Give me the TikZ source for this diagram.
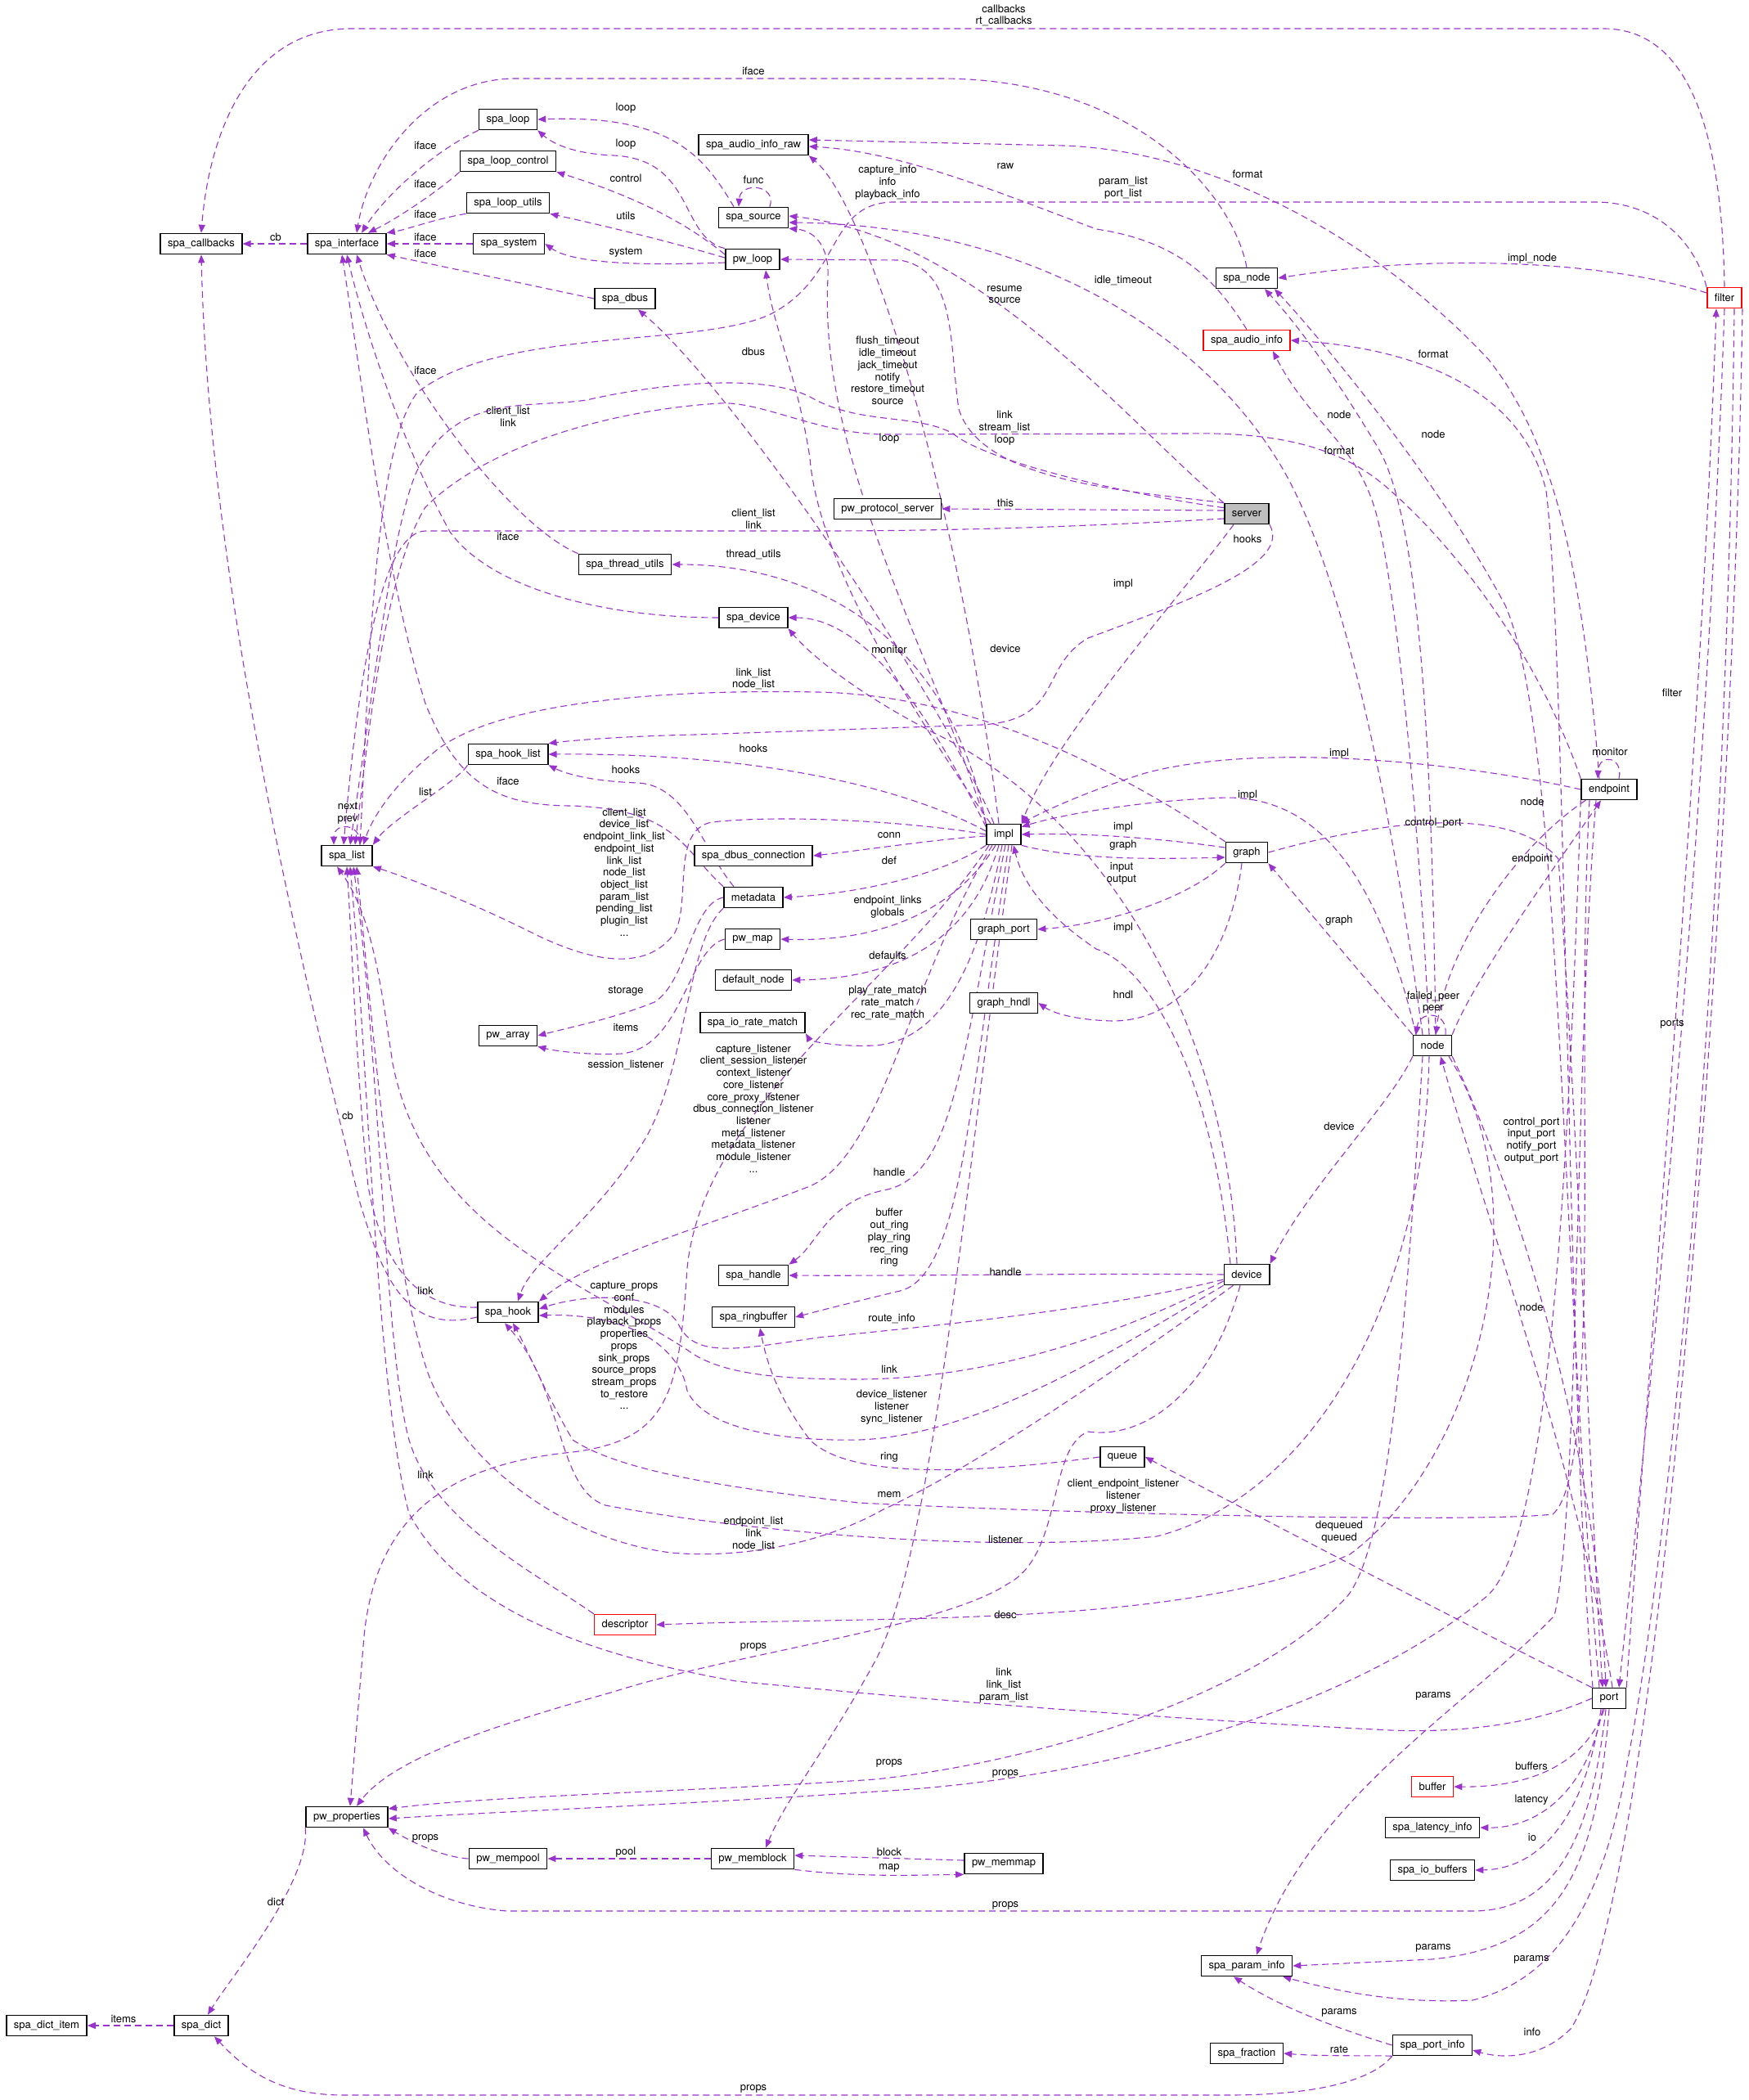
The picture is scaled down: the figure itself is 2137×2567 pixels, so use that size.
\documentclass[tikz,border=0pt]{standalone}
\usepackage{fontspec}
\setmainfont{TeX Gyre Heros}
\usetikzlibrary{arrows.meta}
\definecolor{edgecol}{HTML}{9A32CD}
\definecolor{rootgray}{HTML}{BFBFBF}
\newcommand{\dxfont}{\fontsize{6.5}{7.35}\selectfont}
\pgfdeclarelayer{paper}
\pgfdeclarelayer{bg}
\pgfsetlayers{paper,bg,main}
\tikzset{
  cls/.style={draw=black, line width=0.8pt, fill=white, font=\dxfont,
    inner xsep=4.5pt, inner ysep=0pt, minimum height=12.5pt},
  redcls/.style={cls, draw=red},
  rootcls/.style={cls, fill=rootgray},
  lbl/.style={font=\dxfont, align=center, inner sep=0pt},
  edge/.style={draw=edgecol, line width=0.55pt, dash pattern=on 4pt off 2.5pt,
    -{Triangle[length=5pt,width=4pt]}}
}
\begin{document}
\begin{tikzpicture}[x=0.5pt, y=-0.5pt]
\begin{pgfonlayer}{paper}
\fill[white] (0,0) rectangle (2137,2567);
\end{pgfonlayer}
\useasboundingbox (0,0) rectangle (2137,2567);

% Clases
\node[cls] (spa_callbacks) at (246,298) {spa\_callbacks};
\node[cls] (spa_interface) at (424,298) {spa\_interface};
\node[cls] (spa_loop) at (621,146) {spa\_loop};
\node[cls] (spa_loop_control) at (621,197) {spa\_loop\_control};
\node[cls] (spa_loop_utils) at (621,248) {spa\_loop\_utils};
\node[cls] (spa_system) at (622,298) {spa\_system};
\node[cls] (spa_dbus) at (764,365) {spa\_dbus};
\node[cls] (spa_audio_info_raw) at (921,177) {spa\_audio\_info\_raw};
\node[cls] (spa_source) at (921,266) {spa\_source};
\node[cls] (pw_loop) at (920,317) {pw\_loop};
\node[cls] (pw_protocol_server) at (1085,622) {pw\_protocol\_server};
\node[rootcls] (server) at (1524,628) {server};
\node[cls] (spa_node) at (1524,340) {spa\_node};
\node[redcls] (spa_audio_info) at (1524,416) {spa\_audio\_info};
\node[redcls] (filter) at (2108,364) {filter};
\node[cls] (spa_thread_utils) at (764,690) {spa\_thread\_utils};
\node[cls] (spa_device) at (921,755) {spa\_device};
\node[cls] (spa_hook_list) at (621,922) {spa\_hook\_list};
\node[cls] (spa_list) at (424,1046) {spa\_list};
\node[cls] (spa_dbus_connection) at (921,1046) {spa\_dbus\_connection};
\node[cls] (metadata) at (921,1097) {metadata};
\node[cls] (pw_map) at (920,1148) {pw\_map};
\node[cls] (default_node) at (921,1198) {default\_node};
\node[cls] (spa_io_rate_match) at (920,1250) {spa\_io\_rate\_match};
\node[cls] (pw_array) at (621,1266) {pw\_array};
\node[cls] (impl) at (1227,1020) {impl};
\node[cls] (graph) at (1524,1042) {graph};
\node[cls] (graph_port) at (1227,1136) {graph\_port};
\node[cls] (graph_hndl) at (1227,1226) {graph\_hndl};
\node[cls] (endpoint) at (1967,965) {endpoint};
\node[cls] (node) at (1751,1278) {node};
\node[cls] (spa_hook) at (621,1604) {spa\_hook};
\node[cls] (spa_handle) at (921,1559) {spa\_handle};
\node[cls] (spa_ringbuffer) at (921,1610) {spa\_ringbuffer};
\node[cls] (device) at (1524,1558) {device};
\node[cls] (queue) at (1372,1781) {queue};
\node[redcls] (descriptor) at (764,1986) {descriptor};
\node[cls] (pw_properties) at (424,2221) {pw\_properties};
\node[cls] (pw_mempool) at (621,2272) {pw\_mempool};
\node[cls] (pw_memblock) at (920,2272) {pw\_memblock};
\node[cls] (spa_dict_item) at (57,2476) {spa\_dict\_item};
\node[cls] (spa_dict) at (246,2476) {spa\_dict};
\node[cls] (port) at (1967,2076) {port};
\node[redcls] (buffer) at (1751,2184) {buffer};
\node[cls] (spa_latency_info) at (1751,2234) {spa\_latency\_info};
\node[cls] (spa_io_buffers) at (1751,2286) {spa\_io\_buffers};
\node[cls] (pw_memmap) at (1227,2278) {pw\_memmap};
\node[cls] (spa_param_info) at (1524,2403) {spa\_param\_info};
\node[cls] (spa_port_info) at (1751,2500) {spa\_port\_info};
\node[cls] (spa_fraction) at (1524,2510) {spa\_fraction};

% Conexiones
\begin{pgfonlayer}{bg}
\draw[edge] (spa_interface) -- (spa_callbacks);
\draw[edge] (filter.north) .. controls (2105,150) and (2060,35) .. (1960,35) -- (430,35) .. controls (300,35) and (255,170) .. (spa_callbacks.north);
\draw[edge] (spa_node.north) .. controls (1505,230) and (1380,96) .. (1150,96) -- (630,96) .. controls (520,96) and (450,200) .. ([xshift=6pt]spa_interface.north);
\draw[edge] (spa_loop.south west) .. controls (530,185) and (470,240) .. ([xshift=9pt]spa_interface.north);
\draw[edge] (spa_loop_control.south west) .. controls (540,230) and (490,265) .. ([xshift=13pt]spa_interface.north);
\draw[edge] (spa_loop_utils.south west) .. controls (530,268) and (500,280) .. (spa_interface.north east);
\draw[edge] (spa_system) -- (spa_interface);
\draw[edge] (spa_dbus.west) -- (spa_interface.south east);
\draw[edge] ([xshift=-12pt]spa_source.north) .. controls (860,190) and (820,140) .. (spa_loop.east);
\draw[edge] ([xshift=10pt]spa_source.north) .. controls (950,225) and (905,222) .. ([xshift=-9pt]spa_source.north);
\draw[edge] (pw_loop.north west) .. controls (830,290) and (850,195) .. (750,190) .. controls (700,188) and (675,175) .. (spa_loop.south east);
\draw[edge] ([yshift=3pt]pw_loop.west) .. controls (830,265) and (760,235) .. (spa_loop_control.south east);
\draw[edge] ([yshift=1pt]pw_loop.west) .. controls (800,290) and (720,272) .. (spa_loop_utils.south east);
\draw[edge] ([yshift=-2pt]pw_loop.west) .. controls (780,325) and (700,322) .. (spa_system.east);
\draw[edge] (spa_audio_info.north) .. controls (1485,340) and (1440,295) .. (1340,280) .. controls (1220,235) and (1100,185) .. ([yshift=-1pt]spa_audio_info_raw.east);
\draw[edge] ([xshift=-6pt]endpoint.north) .. controls (1935,700) and (1900,540) .. (1820,440) .. controls (1700,310) and (1500,185) .. (1300,178) -- ([yshift=3pt]spa_audio_info_raw.east);
\draw[edge] ([xshift=-3pt]impl.north) .. controls (1170,600) and (1060,250) .. (spa_audio_info_raw.south east);
\draw[edge] (filter.north west) .. controls (2070,290) and (2020,247) .. (1950,247) -- (1090,247) .. controls (1010,250) and (1030,340) .. (940,385) .. controls (850,425) and (610,400) .. (510,480) .. controls (455,550) and (450,850) .. ([xshift=8pt]spa_list.north);
\draw[edge] ([yshift=3pt]filter.west) .. controls (1960,318) and (1750,310) .. (spa_node.east);
\draw[edge] ([xshift=-6pt]node.north) .. controls (1710,1050) and (1650,700) .. (1560,560) .. controls (1460,400) and (1250,275) .. ([yshift=-3pt]spa_source.east);
\draw[edge] (server.north west) .. controls (1390,530) and (1200,290) .. ([yshift=1pt]spa_source.east);
\draw[edge] (impl.north west) .. controls (1140,800) and (1000,560) .. (1012,340) .. controls (1014,300) and (995,282) .. (spa_source.south east);
\draw[edge] ([xshift=-6pt]impl.north) .. controls (1150,850) and (900,480) .. ([xshift=8pt]spa_dbus.south);
\draw[edge] ([xshift=-8pt]impl.north) .. controls (1100,850) and (1000,680) .. (990,560) .. controls (975,460) and (945,400) .. ([xshift=8pt]pw_loop.south);
\draw[edge] (server.north west) .. controls (1380,600) and (1200,590) .. (1172,500) .. controls (1160,420) and (1170,330) .. (1100,318) -- (pw_loop.east);
\draw[edge] ([yshift=-3pt]server.north west) .. controls (1350,600) and (1200,560) .. (1165,530) .. controls (1120,505) and (1050,520) .. (990,485) .. controls (930,455) and (800,470) .. (717,489) .. controls (640,500) and (560,480) .. (510,575) .. controls (480,640) and (455,850) .. ([xshift=2pt]spa_list.north);
\draw[edge] ([yshift=-3pt]server.west) .. controls (1300,645) and (1150,649) .. (1000,649) -- (520,649) .. controls (470,650) and (440,800) .. ([xshift=-2pt]spa_list.north);
\draw[edge] (endpoint.north west) .. controls (1880,800) and (1780,670) .. (1700,600) .. controls (1640,545) and (1560,528) .. (1450,530) -- (1080,531) .. controls (1000,530) and (930,490) .. (880,493) .. controls (760,500) and (600,540) .. (520,620) .. controls (470,700) and (450,900) .. ([xshift=5pt]spa_list.north);
\draw[edge] ([yshift=2pt]server.west) -- (pw_protocol_server.east);
\draw[edge] ([xshift=-8pt]server.south) .. controls (1450,720) and (1290,900) .. (impl.north east);
\draw[edge] (server.south east) .. controls (1580,690) and (1450,735) .. (1330,780) .. controls (1270,815) and (1300,880) .. (1200,886) -- (850,898) .. controls (760,900) and (700,905) .. (spa_hook_list.north east);
\draw[edge] ([xshift=-10pt]port.north) .. controls (1915,1700) and (1915,800) .. (1890,600) .. controls (1860,470) and (1720,425) .. (spa_audio_info.east);
\draw[edge] ([xshift=2pt]node.north) .. controls (1750,900) and (1735,620) .. (1680,540) .. controls (1620,440) and (1575,385) .. ([xshift=11pt]spa_node.south);
\draw[edge] ([xshift=-6pt]port.north) .. controls (1905,1500) and (1910,900) .. (1840,740) .. controls (1760,590) and (1620,420) .. ([xshift=17pt]spa_node.south);
\draw[edge] ([xshift=-2pt]node.north) .. controls (1735,1000) and (1705,700) .. (1680,620) .. controls (1655,540) and (1600,515) .. ([xshift=16pt]spa_audio_info.south);
\draw[edge] (port.north east) .. controls (2020,1600) and (2080,900) .. ([xshift=-5pt]filter.south);
\draw[edge] (filter.south) .. controls (2090,900) and (2040,1500) .. ([xshift=6pt]port.north);
\draw[edge] ([xshift=6pt]filter.south) .. controls (2110,1200) and (2040,1900) .. (1990,2150) .. controls (1960,2330) and (1900,2420) .. (1800,2445) .. controls (1700,2450) and (1620,2430) .. ([xshift=-6pt]spa_param_info.south east);
\draw[edge] (filter.south east) .. controls (2120,1000) and (2060,1700) .. (2029,1950) .. controls (2000,2200) and (1960,2420) .. (1920,2480) .. controls (1880,2520) and (1830,2515) .. ([yshift=-3pt]spa_port_info.east);
\draw[edge] ([xshift=-3pt]port.south) .. controls (1940,2150) and (1880,2185) .. (buffer.east);
\draw[edge] ([xshift=-4pt]port.south) .. controls (1940,2190) and (1880,2235) .. (spa_latency_info.east);
\draw[edge] ([xshift=-5pt]port.south) .. controls (1935,2240) and (1870,2285) .. (spa_io_buffers.east);
\draw[edge] ([xshift=-2pt]port.south) .. controls (1945,2250) and (1900,2336) .. (1800,2336) -- (620,2336) .. controls (540,2330) and (470,2290) .. ([xshift=10pt]pw_properties.south);
\draw[edge] (port.south) .. controls (1950,2300) and (1900,2380) .. (1750,2395) -- (spa_param_info.east);
\draw[edge] (port.west) .. controls (1870,2110) and (1780,2118) .. (1700,2115) .. controls (1400,2100) and (1100,2075) .. (900,2055) .. controls (700,2020) and (560,1960) .. (500,1850) .. controls (460,1700) and (450,1300) .. ([xshift=2pt]spa_list.south);
\draw[edge] (port.north west) .. controls (1800,1990) and (1550,1860) .. (queue.east);
\draw[edge] (node.south east) .. controls (1850,1450) and (1950,1750) .. ([xshift=-2pt]port.north);
\draw[edge] ([xshift=2pt]port.north) .. controls (1930,1800) and (1820,1500) .. ([xshift=5pt]node.south);
\draw[edge] ([xshift=-8pt]endpoint.south) .. controls (1925,1300) and (1930,1850) .. (1900,1975) .. controls (1800,2080) and (1600,2200) .. ([xshift=6pt]spa_param_info.north);
\draw[edge] (endpoint.south west) .. controls (1915,1500) and (1890,1880) .. (1819,1950) .. controls (1650,2090) and (1350,2175) .. (1070,2190) .. controls (850,2205) and (600,2215) .. ([yshift=-1pt]pw_properties.east);
\draw[edge] ([xshift=-6pt]node.south) .. controls (1720,1600) and (1700,1880) .. (1648,1950) .. controls (1550,2060) and (1300,2150) .. (1070,2175) .. controls (850,2190) and (600,2195) .. ([yshift=5pt]pw_properties.east);
\draw[edge] ([xshift=-4pt]device.south) .. controls (1480,1700) and (1400,1760) .. (1330,1750) .. controls (1280,1770) and (1300,1900) .. (1232,1936) .. controls (1150,1990) and (900,2020) .. (750,2068) .. controls (600,2110) and (480,2150) .. ([xshift=6pt]pw_properties.north);
\draw[edge] ([xshift=10pt]node.south) .. controls (1890,1480) and (1800,1790) .. (1650,1900) .. controls (1450,1990) and (1100,1975) .. (descriptor.east);
\draw[edge] ([xshift=-2pt]node.south) .. controls (1740,1600) and (1600,1830) .. (1414,1878) .. controls (1200,1900) and (900,1870) .. (740,1840) .. controls (680,1820) and (690,1700) .. ([xshift=-2pt]spa_hook.south);
\draw[edge] ([xshift=-12pt]endpoint.south) .. controls (1925,1300) and (1960,1800) .. (1898,1851) .. controls (1800,1862) and (1300,1850) .. (1050,1837) .. controls (900,1820) and (760,1800) .. (700,1760) .. controls (665,1700) and (645,1650) .. ([xshift=3pt]spa_hook.south);
\draw[edge] ([yshift=-4pt]device.west) .. controls (1350,1640) and (1200,1685) .. (1050,1686) .. controls (950,1686) and (880,1680) .. (840,1650) .. controls (700,1560) and (520,1500) .. (480,1300) .. controls (465,1200) and (455,1120) .. ([xshift=-6pt]spa_list.south);
\draw[edge] ([xshift=6pt]device.south west) .. controls (1400,1650) and (1200,1790) .. (1080,1845) .. controls (1000,1890) and (900,1905) .. (820,1898) .. controls (680,1880) and (560,1780) .. (523,1678) .. controls (480,1550) and (460,1300) .. ([xshift=6pt]spa_list.south);
\draw[edge] (descriptor.north west) .. controls (650,1920) and (530,1860) .. (500,1760) .. controls (470,1650) and (465,1300) .. ([xshift=4pt]spa_list.south);
\draw[edge] ([yshift=3pt]spa_hook.west) .. controls (520,1600) and (470,1560) .. (450,1450) .. controls (435,1300) and (430,1150) .. (spa_list.south);
\draw[edge] ([yshift=-3pt]spa_hook.west) .. controls (500,1630) and (470,1570) .. (440,1470) .. controls (360,1150) and (255,700) .. (spa_callbacks.south);
\draw[edge] (impl.west) .. controls (1120,1005) and (960,995) .. (870,1005) .. controls (820,1015) and (845,1100) .. (825,1140) .. controls (790,1190) and (720,1175) .. (650,1140) .. controls (570,1100) and (490,1070) .. (spa_list.south east);
\draw[edge] (spa_hook_list.south west) .. controls (560,955) and (480,1000) .. (spa_list.north east);
\draw[edge] ([xshift=8pt]spa_list.north) .. controls (442,1005) and (408,1005) .. ([xshift=-8pt]spa_list.north);
\draw[edge] (graph.north west) .. controls (1380,950) and (1200,850) .. (1000,846) .. controls (800,842) and (600,860) .. (530,920) .. controls (480,960) and (455,1000) .. ([xshift=10pt]spa_list.north);
\draw[edge] (metadata.north west) .. controls (835,1040) and (830,990) .. (700,985) .. controls (610,985) and (560,960) .. (520,860) .. controls (470,700) and (440,450) .. ([xshift=-3pt]spa_interface.south);
\draw[edge] (spa_device.west) .. controls (740,755) and (600,720) .. (550,650) .. controls (500,560) and (450,420) .. (spa_interface.south);
\draw[edge] (spa_thread_utils.north west) .. controls (620,640) and (480,450) .. ([xshift=6pt]spa_interface.south);
\draw[edge] (impl.north west) .. controls (1160,780) and (1000,690) .. (spa_thread_utils.east);
\draw[edge] ([yshift=-2pt]impl.north west) .. controls (1140,880) and (1060,755) .. (spa_device.east);
\draw[edge] ([xshift=-6pt]device.north) .. controls (1500,1250) and (1350,1000) .. (1150,900) .. controls (1050,850) and (990,800) .. (spa_device.south east);
\draw[edge] ([yshift=2pt]impl.west) .. controls (1120,970) and (950,920) .. (spa_hook_list.east);
\draw[edge] ([xshift=-12pt]metadata.north) .. controls (860,1040) and (840,960) .. (780,957) .. controls (720,955) and (690,945) .. (spa_hook_list.south east);
\draw[edge] ([yshift=-1pt]impl.west) .. controls (1150,1025) and (1050,1040) .. (spa_dbus_connection.east);
\draw[edge] (impl.south west) .. controls (1150,1070) and (1050,1092) .. (metadata.east);
\draw[edge] ([xshift=-5pt]impl.south) .. controls (1170,1110) and (1080,1152) .. (pw_map.east);
\draw[edge] ([xshift=-3pt]impl.south) .. controls (1190,1140) and (1110,1196) .. (default_node.east);
\draw[edge] ([xshift=-1pt]impl.south) .. controls (1200,1160) and (1160,1270) .. (1070,1278) .. controls (1020,1280) and (990,1272) .. (spa_io_rate_match.south east);
\draw[edge] ([xshift=-7pt]impl.south) .. controls (1110,1200) and (1080,1410) .. (990,1450) .. controls (860,1500) and (720,1540) .. (spa_hook.north east);
\draw[edge] (metadata.south west) .. controls (840,1150) and (840,1300) .. (790,1390) .. controls (730,1490) and (650,1540) .. ([xshift=6pt]spa_hook.north);
\draw[edge] (metadata.west) .. controls (845,1105) and (840,1200) .. (800,1225) .. controls (750,1245) and (700,1255) .. (pw_array.east);
\draw[edge] (pw_map.west) .. controls (840,1160) and (835,1280) .. (760,1288) .. controls (720,1290) and (680,1285) .. (pw_array.south east);
\draw[edge] ([xshift=1pt]impl.south) .. controls (1175,1300) and (1165,1440) .. (1080,1455) .. controls (1010,1470) and (1000,1520) .. (spa_handle.north east);
\draw[edge] ([xshift=3pt]impl.south) .. controls (1185,1350) and (1175,1560) .. (1100,1578) .. controls (1050,1590) and (1010,1600) .. (spa_ringbuffer.east);
\draw[edge] (device.west) .. controls (1350,1556) and (1100,1560) .. (spa_handle.east);
\draw[edge] ([yshift=-3pt]device.west) .. controls (1350,1600) and (1150,1620) .. (1000,1635) .. controls (900,1650) and (850,1660) .. (830,1620) .. controls (810,1580) and (720,1580) .. ([yshift=2pt]spa_hook.east);
\draw[edge] (device.south west) .. controls (1380,1640) and (1200,1755) .. (1050,1760) .. controls (950,1762) and (860,1745) .. (840,1700) .. controls (830,1640) and (760,1605) .. ([yshift=-2pt]spa_hook.east);
\draw[edge] ([xshift=-9pt]impl.south) .. controls (1100,1200) and (860,1350) .. (840,1550) .. controls (830,1700) and (820,1760) .. (700,1775) .. controls (550,1790) and (460,1850) .. (445,2000) -- ([xshift=2pt]pw_properties.north);
\draw[edge] ([xshift=5pt]impl.south) .. controls (1180,1450) and (1140,1900) .. (1070,2030) .. controls (1010,2140) and (960,2200) .. ([xshift=8pt]pw_memblock.north);
\draw[edge] (queue.west) .. controls (1200,1800) and (1040,1810) .. (990,1760) .. controls (960,1720) and (940,1680) .. ([xshift=4pt]spa_ringbuffer.south);
\draw[edge] (node.north west) -- (graph.south east);
\draw[edge] ([yshift=3pt]graph.west) .. controls (1420,1025) and (1330,1018) .. (impl.east);
\draw[edge] (impl.south east) .. controls (1320,1052) and (1420,1050) .. ([yshift=-3pt]graph.west);
\draw[edge] ([xshift=-10pt]node.north) .. controls (1680,1050) and (1600,975) .. (1500,975) .. controls (1400,978) and (1300,995) .. ([yshift=-2pt]impl.north east);
\draw[edge] (endpoint.west) .. controls (1800,935) and (1550,905) .. (1400,945) .. controls (1320,970) and (1270,995) .. (impl.north east);
\draw[edge] ([xshift=-10pt]device.north) .. controls (1480,1300) and (1400,1180) .. (1340,1160) .. controls (1280,1120) and (1250,1080) .. ([xshift=6pt]impl.south);
\draw[edge] (graph.south west) .. controls (1450,1100) and (1350,1130) .. (graph_port.east);
\draw[edge] ([xshift=-3pt]graph.south) .. controls (1505,1160) and (1450,1248) .. (1360,1248) .. controls (1320,1247) and (1290,1240) .. (graph_hndl.east);
\draw[edge] (graph.east) .. controls (1700,1000) and (1850,985) .. (1905,1050) .. controls (1930,1400) and (1945,1850) .. ([xshift=-4pt]port.north);
\draw[edge] ([xshift=3pt]endpoint.south west) .. controls (1860,1030) and (1770,1150) .. ([xshift=2pt]node.north);
\draw[edge] (node.north east) .. controls (1800,1200) and (1900,1060) .. ([xshift=-5pt]endpoint.south);
\draw[edge] ([xshift=6pt]endpoint.north) .. controls (1985,925) and (1955,920) .. ([xshift=-7pt]endpoint.north);
\draw[edge] ([xshift=8pt]node.north) .. controls (1770,1235) and (1735,1235) .. ([xshift=-10pt]node.north);
\draw[edge] (node.south west) .. controls (1700,1350) and (1600,1450) .. (device.north east);
\draw[edge] (pw_memblock) -- (pw_mempool);
\draw[edge] (pw_mempool.west) .. controls (540,2270) and (500,2250) .. (pw_properties.south east);
\draw[edge] (pw_memblock.south east) .. controls (1050,2295) and (1120,2292) .. (pw_memmap.south west);
\draw[edge] ([yshift=2pt]pw_memmap.west) -- ([yshift=2pt]pw_memblock.east);
\draw[edge] (pw_properties.south west) .. controls (380,2300) and (280,2420) .. ([xshift=4pt]spa_dict.north);
\draw[edge] (spa_dict) -- (spa_dict_item);
\draw[edge] (spa_port_info.south west) .. controls (1680,2540) and (1620,2561) .. (1500,2561) -- (420,2561) .. controls (340,2561) and (300,2530) .. ([xshift=8pt]spa_dict.south);
\draw[edge] (spa_port_info.west) .. controls (1620,2475) and (1560,2450) .. ([xshift=-8pt]spa_param_info.south);
\draw[edge] (spa_port_info.south west) .. controls (1680,2512) and (1620,2514) .. (spa_fraction.east);
\end{pgfonlayer}

% Etiquetas
\node[lbl] (l1) at (337,290) {cb};
\node[lbl] (l2) at (1227,19) {callbacks\\rt\_callbacks};
\node[lbl] (l3) at (921,87) {iface};
\node[lbl] (l4) at (520,178) {iface};
\node[lbl] (l5) at (520,225) {iface};
\node[lbl] (l6) at (520,262) {iface};
\node[lbl] (l7) at (520,290) {iface};
\node[lbl] (l8) at (520,310) {iface};
\node[lbl] (l9) at (765,132) {loop};
\node[lbl] (l10) at (765,176) {loop};
\node[lbl] (l11) at (765,218) {control};
\node[lbl] (l12) at (765,264) {utils};
\node[lbl] (l13) at (765,309) {system};
\node[lbl] (l14) at (921,220) {func};
\node[lbl] (l15) at (1229,203) {raw};
\node[lbl] (l16) at (1525,213) {format};
\node[lbl] (l17) at (1085,223) {capture\_info\\info\\playback\_info};
\node[lbl] (l18) at (1373,230) {param\_list\\port\_list};
\node[lbl] (l19) at (1873,316) {impl\_node};
\node[lbl] (l20) at (1373,343) {idle\_timeout};
\node[lbl] (l21) at (1228,360) {resume\\source};
\node[lbl] (l22) at (1752,433) {format};
\node[lbl] (l23) at (921,430) {dbus};
\node[lbl] (l24) at (1085,453) {flush\_timeout\\idle\_timeout\\jack\_timeout\\notify\\restore\_timeout\\source};
\node[lbl] (l25) at (1637,507) {node};
\node[lbl] (l26) at (1752,531) {node};
\node[lbl] (l27) at (1228,523) {link\\stream\_list\\loop};
\node[lbl] (l28) at (1087,536) {loop};
\node[lbl] (l29) at (1637,551) {format};
\node[lbl] (l30) at (621,509) {client\_list\\link};
\node[lbl] (l31) at (1229,615) {this};
\node[lbl] (l32) at (921,634) {client\_list\\link};
\node[lbl] (l33) at (520,453) {iface};
\node[lbl] (l34) at (1525,659) {hooks};
\node[lbl] (l35) at (621,656) {iface};
\node[lbl] (l36) at (921,678) {thread\_utils};
\node[lbl] (l37) at (1373,714) {impl};
\node[lbl] (l38) at (1087,794) {monitor};
\node[lbl] (l39) at (1229,793) {device};
\node[lbl] (l40) at (921,830) {link\_list\\node\_list};
\node[lbl] (l41) at (2044,847) {filter};
\node[lbl] (l42) at (921,915) {hooks};
\node[lbl] (l43) at (1637,921) {impl};
\node[lbl] (l44) at (1968,919) {monitor};
\node[lbl] (l45) at (765,941) {hooks};
\node[lbl] (l46) at (621,955) {iface};
\node[lbl] (l47) at (520,968) {list};
\node[lbl] (l48) at (1525,972) {impl};
\node[lbl] (l49) at (1873,980) {node};
\node[lbl] (l50) at (425,994) {next\\prev};
\node[lbl] (l51) at (763,1066) {client\_list\\device\_list\\endpoint\_link\_list\\endpoint\_list\\link\_list\\node\_list\\object\_list\\param\_list\\pending\_list\\plugin\_list\\...};
\node[lbl] (l52) at (1752,1006) {control\_port};
\node[lbl] (l53) at (1373,1011) {impl};
\node[lbl] (l54) at (1087,1021) {conn};
\node[lbl] (l55) at (1373,1033) {graph};
\node[lbl] (l56) at (1087,1052) {def};
\node[lbl] (l57) at (1873,1050) {endpoint};
\node[lbl] (l58) at (1371,1068) {input\\output};
\node[lbl] (l59) at (1085,1109) {endpoint\_links\\globals};
\node[lbl] (l60) at (1637,1125) {graph};
\node[lbl] (l61) at (1373,1134) {impl};
\node[lbl] (l62) at (1085,1168) {defaults};
\node[lbl] (l63) at (765,1212) {storage};
\node[lbl] (l64) at (1085,1226) {play\_rate\_match\\rate\_match\\rec\_rate\_match};
\node[lbl] (l65) at (1373,1216) {hndl};
\node[lbl] (l66) at (1752,1225) {failed\_peer\\peer};
\node[lbl] (l67) at (2044,1252) {ports};
\node[lbl] (l68) at (765,1256) {items};
\node[lbl] (l69) at (921,1355) {capture\_listener\\client\_session\_listener\\context\_listener\\core\_listener\\core\_proxy\_listener\\dbus\_connection\_listener\\listener\\meta\_listener\\metadata\_listener\\module\_listener\\...};
\node[lbl] (l70) at (765,1302) {session\_listener};
\node[lbl] (l71) at (425,1364) {cb};
\node[lbl] (l72) at (1637,1377) {device};
\node[lbl] (l73) at (1872,1394) {control\_port\\input\_port\\notify\_port\\output\_port};
\node[lbl] (l74) at (1087,1433) {handle};
\node[lbl] (l75) at (1087,1513) {buffer\\out\_ring\\play\_ring\\rec\_ring\\ring};
\node[lbl] (l76) at (1229,1555) {handle};
\node[lbl] (l77) at (520,1578) {link};
\node[lbl] (l78) at (763,1645) {capture\_props\\conf\\modules\\playback\_props\\properties\\props\\sink\_props\\source\_props\\stream\_props\\to\_restore\\...};
\node[lbl] (l79) at (1872,1598) {node};
\node[lbl] (l80) at (1090,1612) {route\_info};
\node[lbl] (l81) at (1087,1674) {link};
\node[lbl] (l82) at (1090,1720) {device\_listener\\listener\\sync\_listener};
\node[lbl] (l83) at (1087,1781) {ring};
\node[lbl] (l84) at (1373,1829) {client\_endpoint\_listener\\listener\\proxy\_listener};
\node[lbl] (l85) at (1087,1827) {mem};
\node[lbl] (l86) at (1637,1873) {dequeued\\queued};
\node[lbl] (l87) at (1229,1882) {listener};
\node[lbl] (l88) at (520,1803) {link};
\node[lbl] (l89) at (921,1875) {endpoint\_list\\link\\node\_list};
\node[lbl] (l90) at (1229,1974) {desc};
\node[lbl] (l91) at (921,2013) {props};
\node[lbl] (l92) at (1227,2060) {link\\link\_list\\param\_list};
\node[lbl] (l93) at (1752,2073) {params};
\node[lbl] (l94) at (1087,2155) {props};
\node[lbl] (l95) at (1229,2168) {props};
\node[lbl] (l96) at (1872,2159) {buffers};
\node[lbl] (l97) at (1872,2200) {latency};
\node[lbl] (l98) at (1873,2246) {io};
\node[lbl] (l99) at (520,2247) {props};
\node[lbl] (l100) at (765,2264) {pool};
\node[lbl] (l101) at (1087,2264) {block};
\node[lbl] (l102) at (1087,2283) {map};
\node[lbl] (l103) at (337,2325) {dict};
\node[lbl] (l104) at (1229,2329) {props};
\node[lbl] (l105) at (1752,2381) {params};
\node[lbl] (l106) at (1872,2395) {params};
\node[lbl] (l107) at (151,2468) {items};
\node[lbl] (l108) at (1637,2460) {params};
\node[lbl] (l109) at (1873,2484) {info};
\node[lbl] (l110) at (1637,2505) {rate};
\node[lbl] (l111) at (921,2553) {props};
\end{tikzpicture}
\end{document}
